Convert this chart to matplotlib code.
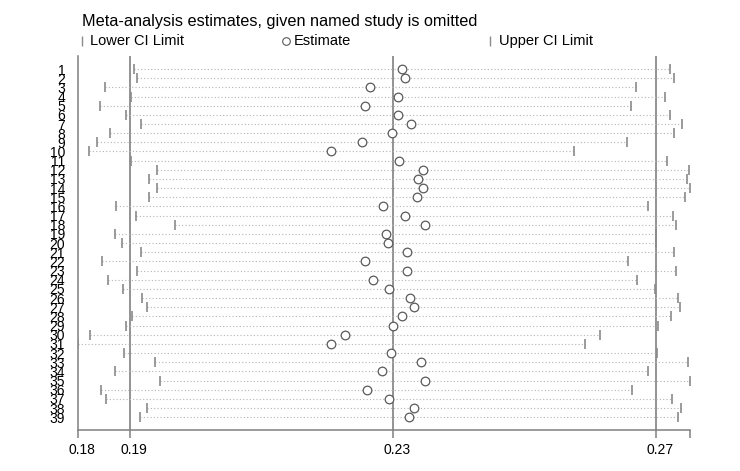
import matplotlib
matplotlib.use("Agg")
import matplotlib.pyplot as plt
from matplotlib.lines import Line2D
from matplotlib.transforms import ScaledTranslation

plt.rcParams['font.family'] = ['Liberation Sans', 'DejaVu Sans']

# omitted study labels
studies = [str(i) for i in range(1, 40)]

lower = [0.1905, 0.1910, 0.1861, 0.1901, 0.1854, 0.1893, 0.1916, 0.1869, 0.1849, 0.1837,
         0.1901, 0.1941, 0.1928, 0.1941, 0.1928, 0.1878, 0.1909, 0.1968, 0.1877, 0.1887,
         0.1917, 0.1857, 0.1911, 0.1866, 0.1889, 0.1918, 0.1925, 0.1903, 0.1894, 0.1838,
         0.1820, 0.1891, 0.1937, 0.1877, 0.1945, 0.1856, 0.1863, 0.1926, 0.1915]

estimate = [0.2314, 0.2318, 0.2265, 0.2308, 0.2258, 0.2307, 0.2328, 0.2299, 0.2252, 0.2205,
            0.2309, 0.2346, 0.2338, 0.2346, 0.2336, 0.2284, 0.2318, 0.2349, 0.2289, 0.2293,
            0.2321, 0.2258, 0.2321, 0.2269, 0.2294, 0.2326, 0.2332, 0.2314, 0.2300, 0.2227,
            0.2206, 0.2297, 0.2343, 0.2283, 0.2348, 0.2260, 0.2294, 0.2332, 0.2325]

upper = [0.2722, 0.2727, 0.2670, 0.2714, 0.2662, 0.2721, 0.2740, 0.2728, 0.2656, 0.2575,
         0.2717, 0.2751, 0.2747, 0.2752, 0.2744, 0.2688, 0.2726, 0.2731, 0.2700, 0.2700,
         0.2727, 0.2658, 0.2730, 0.2672, 0.2699, 0.2733, 0.2737, 0.2723, 0.2704, 0.2615,
         0.2592, 0.2702, 0.2749, 0.2688, 0.2752, 0.2664, 0.2724, 0.2738, 0.2734]

# pooled estimate and its CI
pooled_est = 0.23
pooled_lo = 0.19
pooled_hi = 0.27

W, H = 740, 471
fig = plt.figure(figsize=(W / 100, H / 100), dpi=100)
ax = fig.add_axes([77.7 / W, 1 - 430.3 / H, (690 - 77.7) / W, (430.3 - 56) / H])

xmin, xmax = min(lower), max(upper)
rows = list(range(1, len(studies) + 1))

for v in (pooled_lo, pooled_est, pooled_hi):
    ax.axvline(v, color='#808080', lw=1.2, zorder=1)

for r, lo, est, hi in zip(rows, lower, estimate, upper):
    ax.plot([lo, hi], [r, r], ls=(0, (1, 2)), color='#b5b5b5', lw=0.8, zorder=2)
ax.plot(lower, rows, ls='none', marker='|', ms=7.5, mew=1.2, color='#8a8a8a', zorder=3)
ax.plot(upper, rows, ls='none', marker='|', ms=7.5, mew=1.2, color='#8a8a8a', zorder=3)
ax.plot(estimate, rows, ls='none', marker='o', ms=6.2, mfc='white', mec='#5a5a5a',
        mew=0.9, zorder=4)

ax.set_xlim(xmin, xmax)
ax.set_ylim(len(studies) + 1.42, -0.42)
ax.set_yticks(rows)
ax.set_yticklabels(studies, fontsize=10)
ax.tick_params(axis='y', length=0, pad=9)

xt = [xmin, pooled_lo, pooled_est, pooled_hi, xmax]
ax.set_xticks(xt)
ax.set_xticklabels(['%.2f' % xmin, '%.2f' % pooled_lo, '%.2f' % pooled_est,
                    '%.2f' % pooled_hi, ''], fontsize=10)
ax.tick_params(axis='x', length=6, width=1.1, color='#808080', pad=3)
offset = ScaledTranslation(4 / 100, 0, fig.dpi_scale_trans)
for lab in ax.get_xticklabels():
    lab.set_transform(lab.get_transform() + offset)

for side in ('top', 'right'):
    ax.spines[side].set_visible(False)
for side in ('left', 'bottom'):
    ax.spines[side].set_color('#808080')
    ax.spines[side].set_linewidth(1.1)

# title and legend row
fig.text(81.7 / W, 1 - 21.5 / H, 'Meta-analysis estimates, given named study is omitted',
         fontsize=11.7, va='center', ha='left')
fig.add_artist(Line2D([81.7 / W], [1 - 41 / H], marker='|', ms=7, mew=1, color='#8a8a8a',
                      transform=fig.transFigure))
fig.text(90 / W, 1 - 41 / H, 'Lower CI Limit', fontsize=10.5, va='center', ha='left')
fig.add_artist(Line2D([285.5 / W], [1 - 41 / H], marker='o', ms=5.5, mfc='white',
                      mec='#5a5a5a', mew=0.8, transform=fig.transFigure))
fig.text(293.5 / W, 1 - 41 / H, 'Estimate', fontsize=10.5, va='center', ha='left')
fig.add_artist(Line2D([490 / W], [1 - 41 / H], marker='|', ms=7, mew=1, color='#8a8a8a',
                      transform=fig.transFigure))
fig.text(499.3 / W, 1 - 41 / H, 'Upper CI Limit', fontsize=10.5, va='center', ha='left')

fig.savefig('out.png', dpi=100)
